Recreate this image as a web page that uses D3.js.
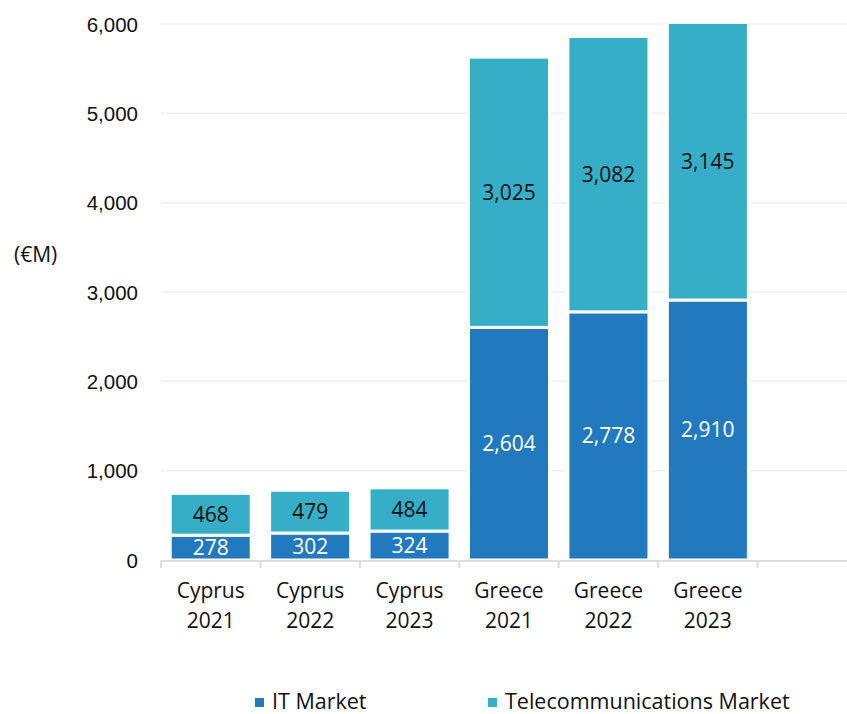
<!DOCTYPE html>
<html>
<head>
<meta charset="utf-8">
<script src="https://cdn.jsdelivr.net/npm/d3@7"></script>
<style>
  html, body { margin: 0; padding: 0; background: #fff; }
  svg { display: block; font-family: "Open Sans", "Noto Sans", sans-serif; }
</style>
</head>
<body>
<svg id="chart" width="847" height="714"></svg>
<script>
// Market size by country and year, in millions of euro
const categories = ["Cyprus 2021", "Cyprus 2022", "Cyprus 2023", "Greece 2021", "Greece 2022", "Greece 2023"];
const itMarket = [278, 302, 324, 2604, 2778, 2910];
const telecomMarket = [468, 479, 484, 3025, 3082, 3145];
const seriesNames = ["IT Market", "Telecommunications Market"];
const seriesColors = ["#2379bd", "#37aec7"];
const yTicks = [0, 1000, 2000, 3000, 4000, 5000, 6000];
const yUnit = "(€M)";

const svg = d3.select("#chart");
const plot = { left: 161, right: 857, top: 24, bottom: 560 };

// an extra empty slot keeps the last band free on the right
const slots = categories.concat(["__spare"]);
const x = d3.scaleBand().domain(slots).range([plot.left, plot.right]).padding(0);
const y = d3.scaleLinear().domain([0, 6000]).range([plot.bottom, plot.top]);

// gridlines
svg.append("g")
  .selectAll("line")
  .data(yTicks.filter(d => d > 0))
  .join("line")
  .attr("x1", plot.left).attr("x2", 847)
  .attr("y1", d => y(d)).attr("y2", d => y(d))
  .attr("stroke", "#efefef").attr("stroke-width", 1.5);

// y-axis labels
const yAxis = d3.axisLeft(y).tickValues(yTicks).tickFormat(d3.format(",")).tickSize(0).tickPadding(0);
const yg = svg.append("g").attr("transform", "translate(138,0)").call(yAxis);
yg.select(".domain").remove();
yg.selectAll("text").attr("font-size", 20.5).attr("fill", "#111").attr("dy", "0.35em");

svg.append("text")
  .attr("x", 14).attr("y", 262)
  .attr("font-size", 21).attr("fill", "#111")
  .text(yUnit);

// stacked bars, clipped at the top of the value axis
svg.append("defs").append("clipPath").attr("id", "plotClip")
  .append("rect").attr("x", plot.left).attr("y", plot.top)
  .attr("width", plot.right - plot.left).attr("height", plot.bottom - plot.top + 2);

const rows = categories.map((c, i) => ({ cat: c, it: itMarket[i], tel: telecomMarket[i] }));
const stack = d3.stack().keys(["it", "tel"])(rows);

const barW = x.bandwidth() * 0.815;
const barOff = (x.bandwidth() - barW) / 2;

const bars = svg.append("g").attr("clip-path", "url(#plotClip)");
stack.forEach((layer, li) => {
  bars.append("g")
    .selectAll("rect")
    .data(layer)
    .join("rect")
    .attr("x", d => x(d.data.cat) + barOff)
    .attr("width", barW)
    .attr("y", d => y(d[1]))
    .attr("height", d => y(d[0]) - y(d[1]))
    .attr("fill", seriesColors[li])
    .attr("stroke", "#fff")
    .attr("stroke-width", 3);
});

// value labels centred in each segment
const visTop = v => Math.min(v, 6000);
stack.forEach((layer, li) => {
  svg.append("g")
    .selectAll("text")
    .data(layer)
    .join("text")
    .attr("x", d => x(d.data.cat) + x.bandwidth() / 2)
    .attr("y", d => (y(d[0]) + y(visTop(d[1]))) / 2)
    .attr("dy", "0.35em")
    .attr("text-anchor", "middle")
    .attr("font-size", 21)
    .attr("fill", li === 0 ? "#fff" : "#111")
    .text(d => d3.format(",")(d[1] - d[0]));
});

// x-axis
svg.append("line")
  .attr("x1", plot.left).attr("x2", 847)
  .attr("y1", plot.bottom + 1).attr("y2", plot.bottom + 1)
  .attr("stroke", "#dedede").attr("stroke-width", 2);
svg.append("g")
  .selectAll("line")
  .data(slots)
  .join("line")
  .attr("x1", d => x(d)).attr("x2", d => x(d))
  .attr("y1", plot.bottom).attr("y2", plot.bottom + 8)
  .attr("stroke", "#dedede").attr("stroke-width", 2);

const catLabels = svg.append("g")
  .selectAll("text")
  .data(categories)
  .join("text")
  .attr("text-anchor", "middle")
  .attr("font-size", 21)
  .attr("fill", "#111");
catLabels.each(function (d) {
  const parts = d.split(" ");
  const cx = x(d) + x.bandwidth() / 2;
  const t = d3.select(this);
  t.append("tspan").attr("x", cx).attr("y", 598).text(parts[0]);
  t.append("tspan").attr("x", cx).attr("y", 628).text(parts[1]);
});

// legend
const legendX = [255, 488];
const legend = svg.append("g");
seriesNames.forEach((name, i) => {
  legend.append("rect")
    .attr("x", legendX[i]).attr("y", 698)
    .attr("width", 9).attr("height", 9)
    .attr("fill", seriesColors[i]);
  legend.append("text")
    .attr("x", legendX[i] + 17).attr("y", 709)
    .attr("font-size", 21.5).attr("fill", "#111")
    .text(name);
});
</script>
</body>
</html>
